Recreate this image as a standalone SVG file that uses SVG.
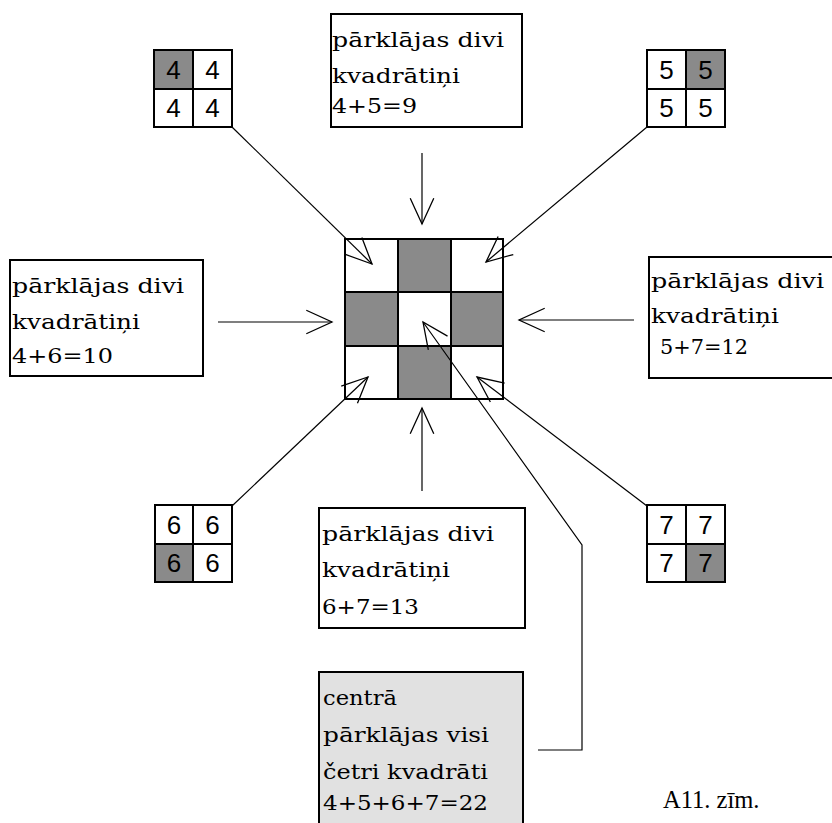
<svg xmlns="http://www.w3.org/2000/svg" width="832" height="823" viewBox="0 0 832 823">
  <style>
    .box { fill: #ffffff; stroke: #000000; stroke-width: 2; }
    .gbox { fill: #e1e1e1; stroke: #000000; stroke-width: 2; }
    .cell { fill: #ffffff; stroke: #000000; stroke-width: 2; }
    .dark { fill: #8a8a8a; stroke: #000000; stroke-width: 2; }
    .outline { fill: none; stroke: #000000; stroke-width: 2; }
    .lbl { font-family: "DejaVu Serif", "Liberation Serif", serif; font-size: 20px; fill: #000000; }
    .dig { font-family: "Liberation Sans", Arial, sans-serif; font-size: 26px; fill: #000000; text-anchor: middle; }
    .cap { font-family: "Liberation Serif", "Times New Roman", serif; font-size: 24.5px; fill: #000000; }
    .conn { fill: none; stroke: #000000; stroke-width: 1.2; }
  </style>
  <defs>
    <marker id="open" markerUnits="userSpaceOnUse" markerWidth="30" markerHeight="30" refX="0" refY="0" viewBox="-26 -13 28 26" orient="auto" overflow="visible">
      <path d="M-24,-11 L0,0 L-24,11" fill="none" stroke="#000000" stroke-width="1.2"/>
    </marker>
  </defs>
  <rect width="832" height="823" fill="#ffffff"/>

  <!-- central 3x3 grid -->
  <g id="center">
    <rect class="cell" x="345" y="239" width="158" height="160"/>
    <rect class="dark" x="398" y="239" width="53" height="53"/>
    <rect class="dark" x="345" y="292" width="53" height="54"/>
    <rect class="dark" x="451" y="292" width="52" height="54"/>
    <rect class="dark" x="398" y="346" width="53" height="53"/>
    <rect class="outline" x="345" y="239" width="158" height="160"/>
  </g>

  <!-- small 2x2 grids -->
  <g id="grid4">
    <rect class="dark" x="154" y="50" width="39" height="39"/>
    <rect class="cell" x="193" y="50" width="39" height="39"/>
    <rect class="cell" x="154" y="89" width="39" height="38"/>
    <rect class="cell" x="193" y="89" width="39" height="38"/>
    <text class="dig" x="173.5" y="79">4</text>
    <text class="dig" x="212.5" y="79">4</text>
    <text class="dig" x="173.5" y="117">4</text>
    <text class="dig" x="212.5" y="117">4</text>
  </g>
  <g id="grid5">
    <rect class="cell" x="647" y="50" width="39" height="39"/>
    <rect class="dark" x="686" y="50" width="39" height="39"/>
    <rect class="cell" x="647" y="89" width="39" height="38"/>
    <rect class="cell" x="686" y="89" width="39" height="38"/>
    <text class="dig" x="666.5" y="79">5</text>
    <text class="dig" x="705.5" y="79">5</text>
    <text class="dig" x="666.5" y="117">5</text>
    <text class="dig" x="705.5" y="117">5</text>
  </g>
  <g id="grid6">
    <rect class="cell" x="155" y="505" width="38" height="39"/>
    <rect class="cell" x="193" y="505" width="39" height="39"/>
    <rect class="dark" x="155" y="544" width="38" height="38"/>
    <rect class="cell" x="193" y="544" width="39" height="38"/>
    <text class="dig" x="174" y="534">6</text>
    <text class="dig" x="212.5" y="534">6</text>
    <text class="dig" x="174" y="572">6</text>
    <text class="dig" x="212.5" y="572">6</text>
  </g>
  <g id="grid7">
    <rect class="cell" x="647" y="505" width="39" height="39"/>
    <rect class="cell" x="686" y="505" width="39" height="39"/>
    <rect class="cell" x="647" y="544" width="39" height="38"/>
    <rect class="dark" x="686" y="544" width="39" height="38"/>
    <text class="dig" x="666.5" y="534">7</text>
    <text class="dig" x="705.5" y="534">7</text>
    <text class="dig" x="666.5" y="572">7</text>
    <text class="dig" x="705.5" y="572">7</text>
  </g>

  <!-- text boxes -->
  <g id="top-box">
    <rect class="box" x="331" y="14" width="191" height="113"/>
    <text class="lbl" x="332" y="47" textLength="172" lengthAdjust="spacingAndGlyphs">pārklājas divi</text>
    <text class="lbl" x="332" y="83" textLength="128" lengthAdjust="spacingAndGlyphs">kvadrātiņi</text>
    <text class="lbl" x="332" y="113" textLength="85" lengthAdjust="spacingAndGlyphs">4+5=9</text>
  </g>
  <g id="left-box">
    <rect class="box" x="10" y="260" width="193" height="116"/>
    <text class="lbl" x="12" y="293" textLength="172" lengthAdjust="spacingAndGlyphs">pārklājas divi</text>
    <text class="lbl" x="12" y="329" textLength="128" lengthAdjust="spacingAndGlyphs">kvadrātiņi</text>
    <text class="lbl" x="12" y="363" textLength="101" lengthAdjust="spacingAndGlyphs">4+6=10</text>
  </g>
  <g id="right-box">
    <rect class="box" x="649" y="257" width="195" height="121"/>
    <text class="lbl" x="651" y="288" textLength="173" lengthAdjust="spacingAndGlyphs">pārklājas divi</text>
    <text class="lbl" x="651" y="323" textLength="128" lengthAdjust="spacingAndGlyphs">kvadrātiņi</text>
    <text class="lbl" x="660" y="354" textLength="88" lengthAdjust="spacingAndGlyphs">5+7=12</text>
  </g>
  <g id="bottom-box">
    <rect class="box" x="319" y="508" width="206" height="120"/>
    <text class="lbl" x="322" y="541" textLength="172" lengthAdjust="spacingAndGlyphs">pārklājas divi</text>
    <text class="lbl" x="322" y="577" textLength="128" lengthAdjust="spacingAndGlyphs">kvadrātiņi</text>
    <text class="lbl" x="322" y="614" textLength="97" lengthAdjust="spacingAndGlyphs">6+7=13</text>
  </g>
  <g id="center-box">
    <rect class="gbox" x="319" y="672" width="204" height="160"/>
    <text class="lbl" x="323" y="705" textLength="74" lengthAdjust="spacingAndGlyphs">centrā</text>
    <text class="lbl" x="323" y="742" textLength="166" lengthAdjust="spacingAndGlyphs">pārklājas visi</text>
    <text class="lbl" x="323" y="779" textLength="165" lengthAdjust="spacingAndGlyphs">četri kvadrāti</text>
    <text class="lbl" x="323" y="810" textLength="165" lengthAdjust="spacingAndGlyphs">4+5+6+7=22</text>
  </g>

  <!-- connectors -->
  <g id="connectors">
    <line class="conn" x1="232" y1="127" x2="372" y2="264" marker-end="url(#open)"/>
    <line class="conn" x1="422" y1="153" x2="422" y2="224" marker-end="url(#open)"/>
    <line class="conn" x1="647" y1="127" x2="486" y2="262" marker-end="url(#open)"/>
    <line class="conn" x1="218" y1="322" x2="332" y2="322" marker-end="url(#open)"/>
    <line class="conn" x1="634" y1="320" x2="519" y2="320" marker-end="url(#open)"/>
    <line class="conn" x1="422" y1="491" x2="422" y2="408" marker-end="url(#open)"/>
    <line class="conn" x1="232" y1="506" x2="368" y2="377" marker-end="url(#open)"/>
    <line class="conn" x1="647" y1="506" x2="477" y2="377" marker-end="url(#open)"/>
    <polyline class="conn" points="538,750 582,750 582,545 423,322" marker-end="url(#open)"/>
  </g>

  <text class="cap" x="663" y="808">A11. zīm.</text>
</svg>
